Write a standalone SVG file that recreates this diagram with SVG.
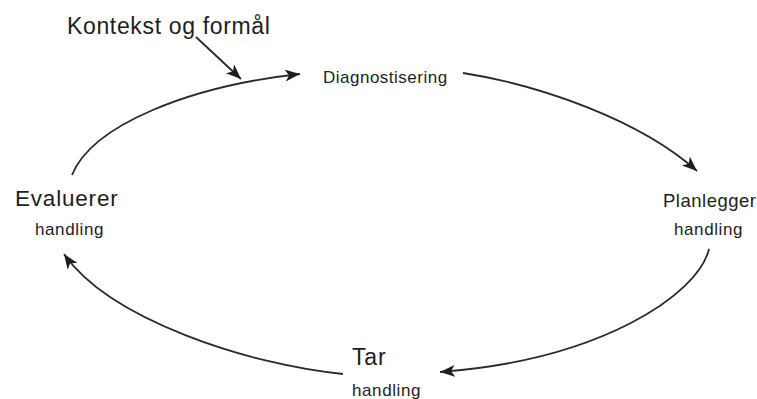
<svg xmlns="http://www.w3.org/2000/svg" width="757" height="399" viewBox="0 0 757 399">
<defs>
<style>
.lbl{font-family:"Liberation Sans",Arial,Helvetica,sans-serif;fill:#1e1e1e}
.big{font-size:22.5px;letter-spacing:0.8px}
.mid{font-size:18.5px;letter-spacing:0.5px}
.sm{font-size:17px;letter-spacing:0.6px}
.edge{fill:none;stroke:#2a2a2a;stroke-width:1.8;marker-end:url(#ah)}
</style>
<marker id="ah" markerUnits="userSpaceOnUse" markerWidth="16" markerHeight="14" refX="15" refY="6" orient="auto">
<path d="M0,0 L15,6 L0,12 L4,6 z" fill="#1e1e1e"/>
</marker>
</defs>
<rect width="757" height="399" fill="#fff"/>
<g id="connectors">
<path class="edge" d="M196,37 L241,79"/>
<path class="edge" d="M72,175 C92,125 190,86 300,74"/>
<path class="edge" d="M463,73 C540,85 640,120 697,171"/>
<path class="edge" d="M709,249 C698,295 600,360 440,372"/>
<path class="edge" d="M343,374 C250,365 110,320 64,254"/>
</g>
<g id="context"><text class="lbl" x="67" y="34" style="font-size:23px;letter-spacing:0.65px">Kontekst og formål</text></g>
<g id="diagnose"><text class="lbl" x="323" y="83" style="font-size:17px;letter-spacing:0.5px">Diagnostisering</text></g>
<g id="plan"><text class="lbl mid" x="663" y="207">Planlegger</text><text class="lbl sm" x="674" y="235">handling</text></g>
<g id="act"><text class="lbl big" x="352" y="365" style="font-size:23px">Tar</text><text class="lbl sm" x="352" y="396">handling</text></g>
<g id="evaluate"><text class="lbl big" x="15" y="206">Evaluerer</text><text class="lbl sm" x="35" y="235">handling</text></g>
</svg>
